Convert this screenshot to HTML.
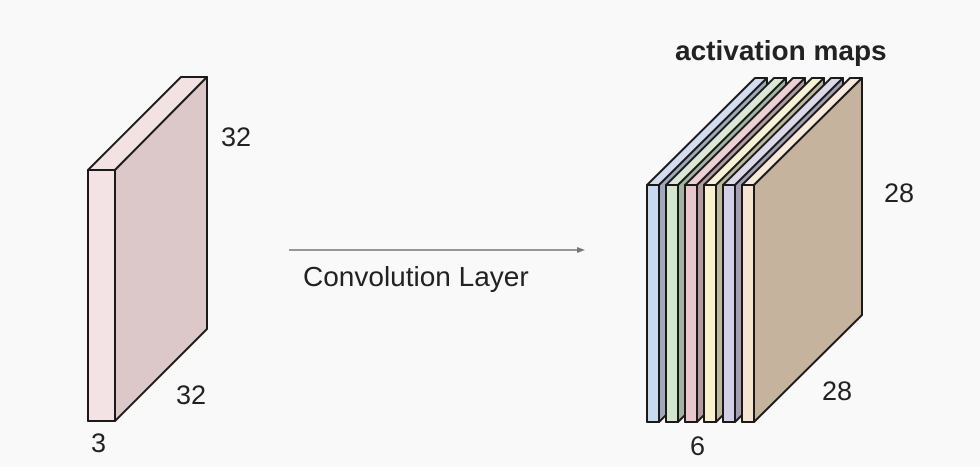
<!DOCTYPE html>
<html><head><meta charset="utf-8"><style>
html,body{margin:0;padding:0;background:#f9f9f9;}
svg{display:block;}
text{font-family:"Liberation Sans",Arial,sans-serif;fill:#222;}
</style></head><body>
<svg width="980" height="467" viewBox="0 0 980 467" xmlns="http://www.w3.org/2000/svg">
<rect width="980" height="467" fill="#f9f9f9"/>
<g stroke="#1a1a1a" stroke-width="2" stroke-linejoin="round">
  <polygon points="88,170 115,170 207,77 181,77" fill="#f3e2e2"/>
  <polygon points="115,170 207,77 207,329 115,421" fill="#dcc8c8"/>
  <polygon points="88,170 115,170 115,421 88,421" fill="#f4e3e4"/>
</g>
<text x="221" y="146" font-size="27">32</text>
<text x="176" y="404" font-size="27">32</text>
<text x="91" y="452" font-size="27">3</text>

<line x1="289" y1="250" x2="580" y2="250" stroke="#777" stroke-width="1.5"/>
<polygon points="585,250 577,247 577,253" fill="#777"/>
<text x="303" y="286" font-size="28">Convolution Layer</text>

<text x="675" y="60" font-size="28" font-weight="bold">activation maps</text>

<g stroke="#1a1a1a" stroke-width="2" stroke-linejoin="round">
  <g>
    <polygon points="647,185 659,185 767,78 755,78" fill="#d4ddef"/>
    <polygon points="659,185 767,78 767,315 659,422" fill="#9fa9bb"/>
    <polygon points="647,185 659,185 659,422 647,422" fill="#c9d9f0"/>
  </g>
  <g>
    <polygon points="666,185 678,185 786,78 774,78" fill="#dbe8d6"/>
    <polygon points="678,185 786,78 786,315 678,422" fill="#a4b3a0"/>
    <polygon points="666,185 678,185 678,422 666,422" fill="#d5e6cf"/>
  </g>
  <g>
    <polygon points="685,185 697,185 805,78 793,78" fill="#ecd0d4"/>
    <polygon points="697,185 805,78 805,315 697,422" fill="#b39a9e"/>
    <polygon points="685,185 697,185 697,422 685,422" fill="#e8c6cb"/>
  </g>
  <g>
    <polygon points="704,185 716,185 824,78 812,78" fill="#f7f1d6"/>
    <polygon points="716,185 824,78 824,315 716,422" fill="#bdb79e"/>
    <polygon points="704,185 716,185 716,422 704,422" fill="#f7f1cd"/>
  </g>
  <g>
    <polygon points="723,185 735,185 843,78 831,78" fill="#dcd9ea"/>
    <polygon points="735,185 843,78 843,315 735,422" fill="#a29fb4"/>
    <polygon points="723,185 735,185 735,422 723,422" fill="#d3cfe4"/>
  </g>
  <g>
    <polygon points="742,185 754,185 862,78 850,78" fill="#f8eadb"/>
    <polygon points="754,185 862,78 862,315 754,422" fill="#c6b39d"/>
    <polygon points="742,185 754,185 754,422 742,422" fill="#f6e4d2"/>
  </g>
</g>
<text x="884" y="202" font-size="27">28</text>
<text x="822" y="400" font-size="27">28</text>
<text x="690" y="455" font-size="27">6</text>
</svg>
</body></html>
